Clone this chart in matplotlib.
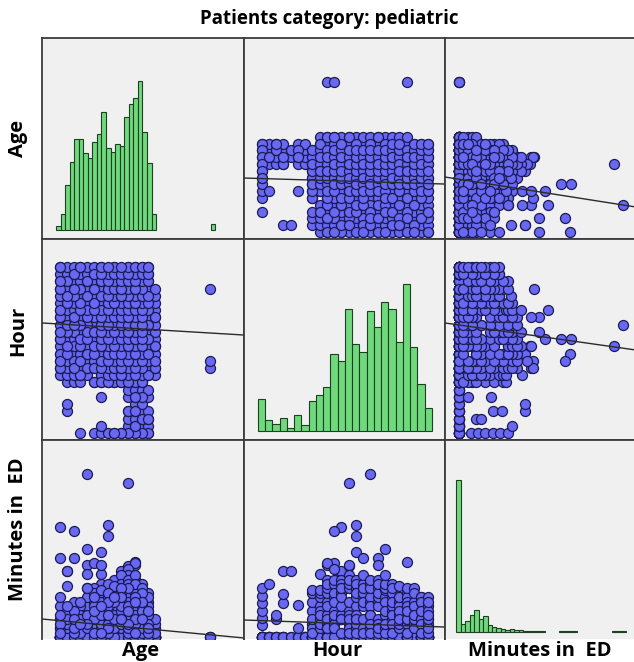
import numpy as np
import matplotlib
matplotlib.use("Agg")
import matplotlib.pyplot as plt

# ---------------- data ----------------
title = "Patients category: pediatric"
var_labels = ["Age", "Hour", "Minutes in  ED"]

# patients with 0 minutes in ED: hour -> list of ages
FULL_AGES = [0, 1, 2, 3, 4, 5, 6, 7, 8, 9, 10, 11, 12, 13, 14]
zero_minute_ages_by_hour = {
    0: [3, 5, 6, 7, 8, 9, 10, 11, 12, 13],
    1: [6, 10, 11, 12, 13],
    2: [10, 11, 12, 13],
    3: [10, 11, 12, 13],
    4: [11, 12],
    5: [6, 10, 11, 13],
    6: [10, 11, 12, 13],
    7: [1, 2, 3, 5, 6, 7, 8, 9, 10, 11, 12],
    8: [0, 1, 2, 3, 4, 6, 7, 8, 9, 10, 11, 12, 13, 14],
    9: FULL_AGES, 10: FULL_AGES, 11: FULL_AGES, 12: FULL_AGES,
    13: FULL_AGES, 14: FULL_AGES, 15: FULL_AGES, 16: FULL_AGES,
    17: FULL_AGES, 18: FULL_AGES, 19: FULL_AGES, 20: FULL_AGES,
    21: [0, 1, 2, 3, 4, 5, 6, 7, 8, 9, 10, 11, 12, 13],
    22: [0, 1, 2, 3, 4, 5, 6, 7, 9, 10, 11, 12, 13],
    23: [0, 1, 2, 3, 4, 5, 6, 8, 10, 11, 12, 13],
}

# other patients: (age, hour, minutes in ED)
other_patients = [
    # outliers / long stays
    (4, 15, 555), (10, 12, 525), (7, 13, 345), (7, 13, 380), (0, 11, 375),
    (2, 10, 360), (4, 17, 300), (6, 13, 290), (11, 20, 255), (0, 16, 270),
    (2, 14, 270), (11, 16, 245), (1, 3, 225), (1, 4, 225), (4, 9, 245),
    (4, 11, 215), (5, 10, 250), (6, 8, 215), (9, 11, 225), (10, 12, 240),
    (11, 9, 250), (10, 10, 230), (1, 14, 175), (4, 12, 165), (6, 12, 245),
    (22, 9, 0), (22, 10, 0), (22, 20, 0),
    # night hours
    (13, 0, 40), (12, 0, 65), (11, 0, 90), (10, 0, 115), (9, 0, 140), (8, 0, 165),
    (11, 1, 180), (12, 2, 60), (13, 2, 75), (10, 3, 115), (11, 3, 145),
    (12, 5, 110), (11, 5, 30),
    # day hours
    (5, 7, 45), (8, 7, 90), (9, 7, 120), (11, 7, 150), (12, 7, 160), (6, 7, 30),
    (7, 7, 15), (10, 7, 60),
    (3, 8, 30), (7, 8, 60), (8, 8, 105), (10, 8, 135), (12, 8, 150), (13, 8, 90), (9, 8, 160),
    (11, 8, 45), (9, 8, 75),
    (2, 9, 45), (5, 9, 75), (7, 9, 120), (8, 9, 150), (9, 9, 195), (10, 9, 165), (12, 9, 105), (14, 9, 30),
    (9, 9, 30), (11, 9, 60), (6, 9, 180), (0, 9, 30),
    (0, 10, 60), (3, 10, 90), (6, 10, 135), (8, 10, 180), (9, 10, 150), (11, 10, 195), (13, 10, 120), (14, 10, 45),
    (7, 10, 45), (10, 10, 75), (12, 10, 30),
    (1, 11, 75), (4, 11, 105), (7, 11, 150), (8, 11, 195), (10, 11, 180), (11, 11, 165), (12, 11, 135), (13, 11, 60),
    (9, 11, 60), (11, 11, 15), (5, 11, 165),
    (2, 12, 90), (5, 12, 120), (7, 12, 165), (9, 12, 180), (10, 12, 210), (11, 12, 195), (12, 12, 75), (14, 12, 15),
    (8, 12, 45), (10, 12, 30), (6, 12, 60), (1, 12, 30), (3, 12, 15),
    (0, 13, 30), (3, 13, 105), (6, 13, 150), (8, 13, 165), (9, 13, 135), (10, 13, 195), (11, 13, 180), (13, 13, 150),
    (7, 13, 75), (11, 13, 45), (12, 13, 15), (4, 13, 60),
    (0, 14, 105), (4, 14, 135), (5, 14, 150), (7, 14, 180), (9, 14, 210), (10, 14, 150), (11, 14, 165), (12, 14, 120),
    (8, 14, 30), (10, 14, 60), (6, 14, 15),
    (1, 15, 45), (3, 15, 75), (6, 15, 120), (8, 15, 135), (9, 15, 180), (10, 15, 165), (11, 15, 195), (13, 15, 105),
    (7, 15, 30), (11, 15, 75), (12, 15, 45), (2, 15, 15),
    (2, 16, 120), (5, 16, 105), (7, 16, 135), (8, 16, 165), (10, 16, 195), (11, 16, 150), (12, 16, 180), (14, 16, 60),
    (9, 16, 45), (10, 16, 15), (6, 16, 45), (4, 16, 30),
    (0, 17, 135), (4, 17, 165), (6, 17, 160), (8, 17, 120), (9, 17, 165), (10, 17, 180), (11, 17, 210), (13, 17, 75),
    (7, 17, 90), (12, 17, 30), (5, 17, 15), (3, 17, 45),
    (1, 18, 90), (3, 18, 60), (5, 18, 135), (7, 18, 105), (9, 18, 150), (10, 18, 120), (11, 18, 180), (12, 18, 165),
    (8, 18, 75), (11, 18, 45), (13, 18, 15),
    (2, 19, 30), (4, 19, 75), (6, 19, 90), (8, 19, 175), (9, 19, 120), (11, 19, 135), (12, 19, 105), (13, 19, 135),
    (10, 19, 30), (7, 19, 45), (9, 19, 90), (1, 19, 60),
    (0, 20, 45), (3, 20, 120), (5, 20, 60), (7, 20, 150), (8, 20, 135), (10, 20, 165), (11, 20, 120), (12, 20, 90),
    (9, 20, 60), (11, 20, 15), (9, 20, 105), (2, 20, 90),
    (1, 21, 105), (4, 21, 45), (6, 21, 75), (8, 21, 120), (9, 21, 165), (10, 21, 105), (12, 21, 150), (13, 21, 45),
    (7, 21, 30), (11, 21, 60), (0, 21, 75),
    (2, 22, 60), (5, 22, 90), (7, 22, 120), (8, 22, 60), (9, 22, 135), (11, 22, 135), (12, 22, 120), (13, 22, 90),
    (10, 22, 45), (6, 22, 15),
    (0, 23, 15), (3, 23, 45), (6, 23, 105), (8, 23, 135), (10, 23, 90), (11, 23, 120), (12, 23, 60), (13, 23, 30),
    (9, 23, 60), (7, 23, 75),
]

# histogram bar heights
age_bin_start, age_bin_width = -0.59, 0.669
age_hist_counts = [4, 16, 45, 68, 91, 91, 77, 72, 88, 96, 118, 82, 78, 86, 84, 113,
                   126, 132, 149, 98, 67, 16, 0, 0, 0, 0, 0, 0, 0, 0, 0, 0, 0, 0, 6]
hour_bin_start, hour_bin_width = -0.5, 1.0
hour_hist_counts = [32, 11, 7, 13, 3, 16, 6, 30, 36, 44, 77, 70, 122, 87, 79, 120,
                    104, 129, 122, 89, 147, 84, 47, 23]
min_bin_start, min_bin_width = -7.5, 15.0
min_hist_counts = [152, 7.7, 11, 17, 21.7, 13, 16, 6.7, 4.3, 4, 2.3, 1.5, 2.3, 2, 1.5,
                   1, 1, 1, 1, 1, 0, 0, 0, 1, 1, 1, 1, 0, 0, 0, 0, 0, 0, 0, 0, 1, 1, 1]

# fit lines (slope, intercept) for (y variable, x variable)
fit_lines = {
    (0, 1): (-0.0319, 7.86),
    (0, 2): (-0.00686, 7.77),
    (1, 0): (-0.0562, 15.09),
    (1, 2): (-0.00582, 14.97),
    (2, 0): (-2.17, 55.4),
    (2, 1): (-0.862, 55.7),
}

# ---------------- assemble ----------------
ages, hours, minutes = [], [], []
for h, alist in zero_minute_ages_by_hour.items():
    for a in alist:
        ages.append(a); hours.append(h); minutes.append(0)
for a, h, m in other_patients:
    ages.append(a); hours.append(h); minutes.append(m)
data = [np.array(ages, float), np.array(hours, float), np.array(minutes, float)]

hists = [
    (age_bin_start, age_bin_width, age_hist_counts),
    (hour_bin_start, hour_bin_width, hour_hist_counts),
    (min_bin_start, min_bin_width, min_hist_counts),
]

# ---------------- layout ----------------
W, H = 634, 662
fig = plt.figure(figsize=(W / 100, H / 100), dpi=100)
fig.patch.set_facecolor("white")

col_px = [42, 244, 445, 642]
row_px = [38, 239, 440, 639]
xlims = [(-2.65, 27.06), (-2.43, 25.3), (-45.9, 617.7)]
ylims = [(-1.03, 28.53), (-0.97, 26.87), (-6.8, 669.8)]
hist_ylims = [(-9, 192), (-9.3, 191.7), (-7.3, 191.7)]

panel_bg = "#F0F0F0"
frame_col = "#3C3C3C"
pt_face = "#6868F2"
pt_edge = "#1C1C55"
bar_face = "#6FD97C"
bar_edge = "#1F3F22"

for r in range(3):
    for c in range(3):
        x0, x1 = col_px[c], col_px[c + 1]
        y0, y1 = row_px[r], row_px[r + 1]
        ax = fig.add_axes([x0 / W, 1 - y1 / H, (x1 - x0) / W, (y1 - y0) / H])
        ax.set_facecolor(panel_bg)
        ax.set_xticks([]); ax.set_yticks([])
        for s in ax.spines.values():
            s.set_color(frame_col)
            s.set_linewidth(1.3)
        if r == 2:
            ax.spines["bottom"].set_visible(False)
        ax.set_xlim(*xlims[c])
        if r == c:
            start, width, counts = hists[c]
            counts = np.array(counts, float)
            centers = start + width * (np.arange(len(counts)) + 0.5)
            keep = counts > 0
            ax.bar(centers[keep], counts[keep], width=width, color=bar_face,
                   edgecolor=bar_edge, linewidth=0.8, zorder=2)
            ax.set_ylim(*hist_ylims[r])
        else:
            ax.scatter(data[c], data[r], s=52, c=pt_face, edgecolors=pt_edge,
                       linewidths=0.9, zorder=2)
            ax.set_ylim(*ylims[r])
            slope, icpt = fit_lines[(r, c)]
            xs = np.array(xlims[c])
            ax.plot(xs, icpt + slope * xs, color="#2A2A2A", lw=1.0, zorder=3)

# ---------------- text ----------------
fig.text(329 / W, 1 - 19 / H, title, ha="center", va="center",
         fontsize=13.5, fontweight="bold", family="Open Sans")
bottom_centers = [141, 337, 540]
for lab, xc in zip(var_labels, bottom_centers):
    fig.text(xc / W, 1 - 651 / H, lab, ha="center", va="center",
             fontsize=14.5, fontweight="bold", family="Open Sans")
left_centers = [138, 331, 529]
for lab, yc in zip(var_labels, left_centers):
    fig.text(18 / W, 1 - yc / H, lab, ha="center", va="center", rotation=90,
             fontsize=14.5, fontweight="bold", family="Open Sans")

fig.savefig("out.png", dpi=100, facecolor="white")
